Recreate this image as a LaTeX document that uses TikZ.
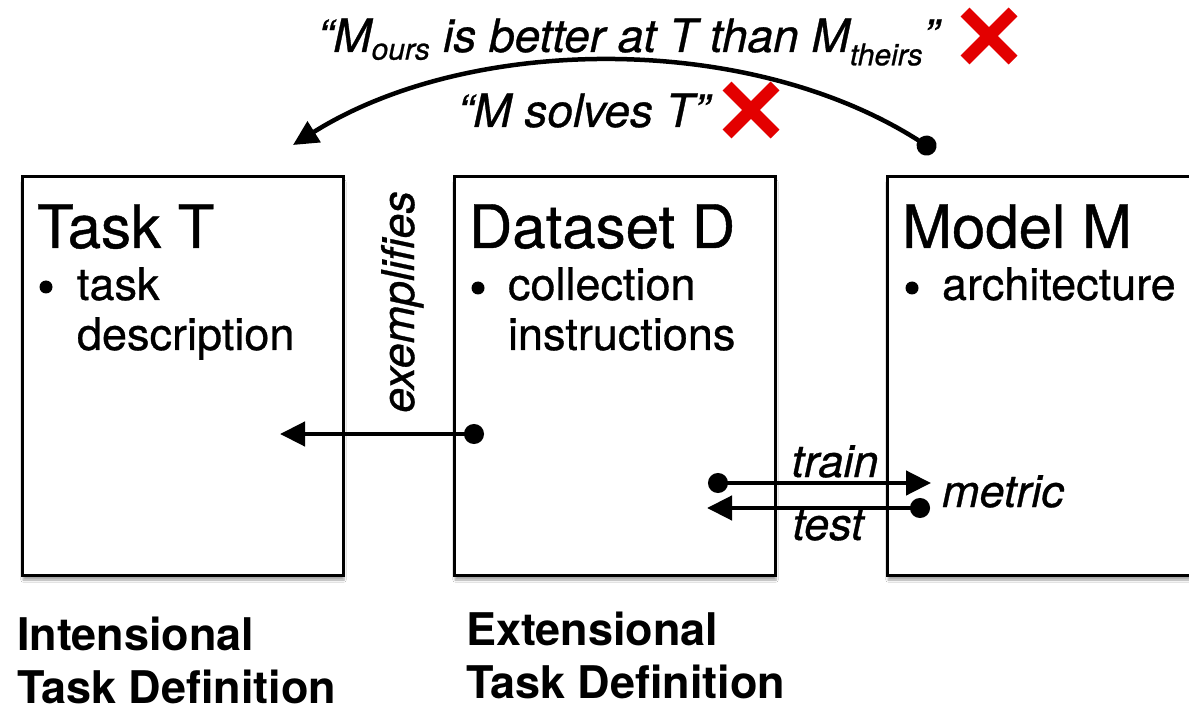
\documentclass[tikz,border=0pt]{standalone}
\usepackage{fontspec}
\setmainfont{TeX Gyre Heros}
\newfontfamily\medfont[FakeBold=0.7]{TeX Gyre Heros}
\usetikzlibrary{arrows.meta,shadows.blur}
\definecolor{xred}{HTML}{E30000}
\tikzset{
  box/.style={draw=black, line width=3pt, fill=white, rectangle, inner sep=0pt,
    minimum height=398pt,
    blur shadow={shadow xshift=1pt, shadow yshift=-5pt, shadow blur steps=6, shadow opacity=35}},
  txt/.style={anchor=base west, inner sep=0pt, outer sep=0pt},
  ttl/.style={txt, font=\medfont\fontsize{60}{62}\selectfont},
  itm/.style={txt, font=\medfont\fontsize{45}{50}\selectfont},
  bul/.style={circle, fill=black, inner sep=0pt, minimum size=13pt},
  lbl/.style={inner sep=0pt, outer sep=0pt, font=\medfont\fontsize{45}{50}\selectfont\itshape},
  bot/.style={txt, font=\fontsize{45}{50}\selectfont\bfseries},
  quote/.style={txt, font=\medfont\fontsize{46}{50}\selectfont\itshape},
  conn/.style={line width=4.5pt, {Circle[length=20pt]}-{Triangle[length=25pt,width=24pt]}},
  xmark/.style={draw=xred, line width=12.5pt, line cap=butt}
}
\begin{document}
\begin{tikzpicture}[x=1pt,y=-1pt]
\useasboundingbox (0,0) rectangle (1189,711);
\fill[white] (0,0) rectangle (1189,711);

% boxes
\node[box, minimum width=321pt] (task) at (182.5,376) {};
\node[box, minimum width=321pt] (data) at (614.5,376) {};
\node[box, minimum width=323pt] (model) at (1048.5,376) {};

% box texts
\node[ttl] (taskT) at (37,248) {Task T};
\node[bul] (tb) at (46,287) {};
\node[itm] (t1) at (77,300) {task};
\node[itm] (t2) at (77,350) {description};

\node[ttl] (dataT) at (469,248) {Dataset D};
\node[bul] (db) at (478,288) {};
\node[itm] (d1) at (508,300) {collection};
\node[itm] (d2) at (508,350) {instructions};

\node[ttl] (modelT) at (902,248) {Model M};
\node[bul] (mb) at (912,288) {};
\node[itm] (m1) at (942,300) {architecture};

% exemplifies
\node[lbl, rotate=90, anchor=base] (exem) at (414,302) {exemplifies};
\coordinate (exA) at (484,434);
\coordinate (exB) at (280,434);
\draw[conn] (exA) -- (exB);

% train / test
\coordinate (trA) at (708,483);
\coordinate (trB) at (931,483);
\coordinate (teA) at (930,508);
\coordinate (teB) at (707,508);
\draw[conn] (trA) -- (trB);
\draw[conn] (teA) -- (teB);
\node[lbl, anchor=base] (train) at (835,477) {train};
\node[lbl, anchor=base] (test) at (828,540) {test};
\node[lbl, anchor=base west] (metric) at (942,507) {metric};

% top curve
\coordinate (cA) at (935,151);
\coordinate (cB) at (293,145);
\draw[conn] (cA) .. controls (750,32) and (470,34) .. (cB);

\node[quote] (q1) at (318,52) {“M\textsubscript{\fontsize{30}{30}\selectfont ours} is better at T than M\textsubscript{\fontsize{30}{30}\selectfont theirs}”};
\node[quote] (q2) at (458,127) {“M solves T”};

% red crosses
\draw[xmark] (965,12) -- (1013,60);
\draw[xmark] (1013,12) -- (965,60);
\draw[xmark] (727,86) -- (775,134);
\draw[xmark] (775,86) -- (727,134);

% bottom labels
\node[bot] (int1) at (17,650) {Intensional};
\node[bot] (int2) at (17,703) {Task Definition};
\node[bot] (ext1) at (466,645) {Extensional};
\node[bot] (ext2) at (466,698) {Task Definition};
\end{tikzpicture}
\end{document}
